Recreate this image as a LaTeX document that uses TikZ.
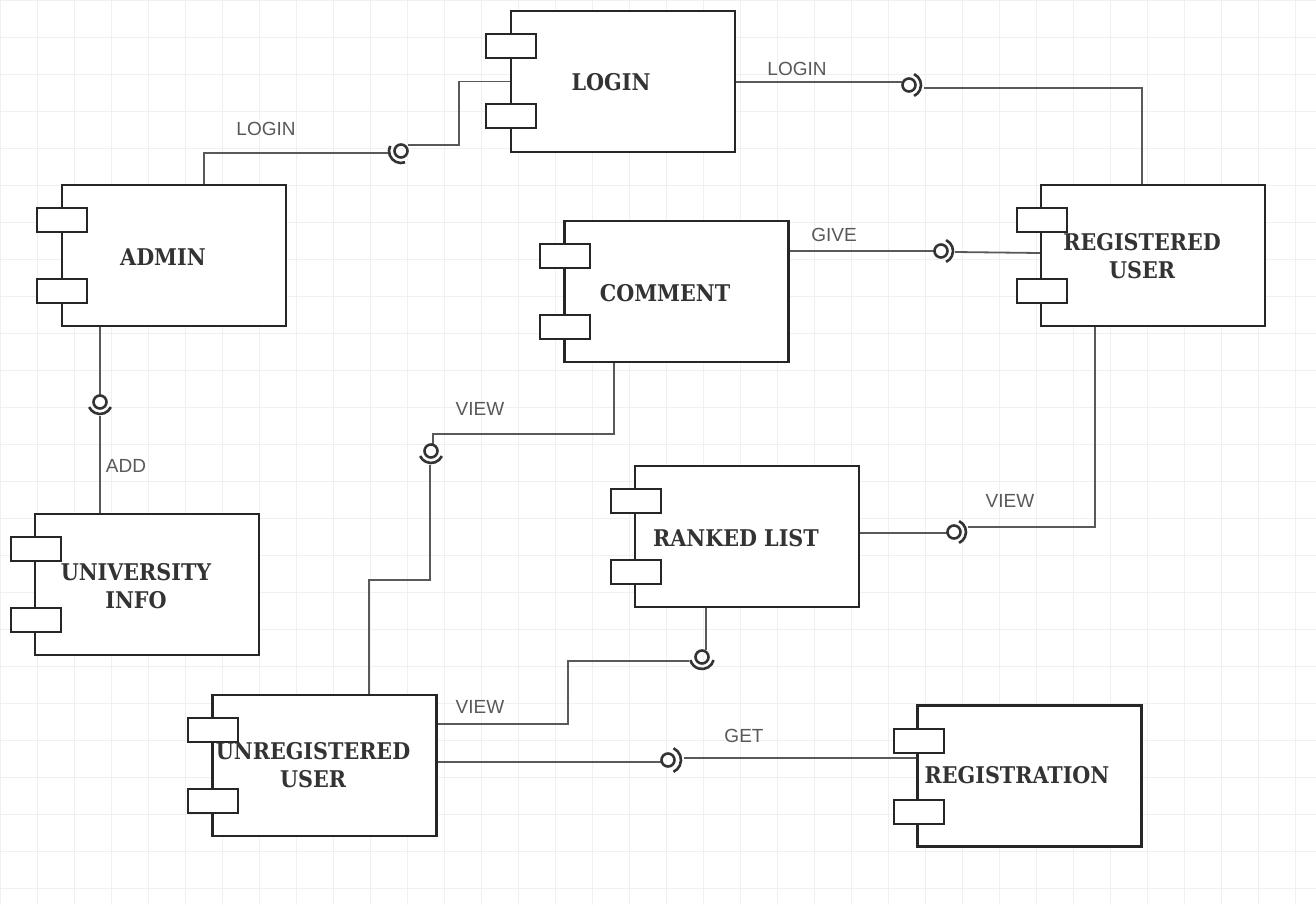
\documentclass[tikz,border=0pt]{standalone}
\usepackage{fontspec}
\newfontfamily\conlabfont{Liberation Sans}
\newfontfamily\compfont{DejaVu Serif Condensed}
\begin{document}
\begin{tikzpicture}[x=1pt,y=-1pt,
  comp/.style={draw=black!85,line width=2.2pt,fill=white,minimum width=224pt,minimum height=141pt,inner sep=0pt},
  port/.style={draw=black!85,line width=2pt,fill=white,minimum width=50pt,minimum height=24pt,inner sep=0pt},
  ctext/.style={font=\compfont\fontsize{23}{28}\selectfont\bfseries,text=black!80,align=center},
  conn/.style={draw=black!65,line width=1.8pt},
  clab/.style={font=\conlabfont\fontsize{19}{22}\selectfont,text=black!65},
  ball/.style={draw=black!80,line width=2.6pt},
  sock/.style={draw=black!80,line width=2.6pt}
]
\useasboundingbox (0,0) rectangle (1316,905);
\fill[white] (0,0) rectangle (1316,905);
\draw[black!6,line width=0.8pt,step=37pt] (0,0) grid (1316,905);

% components
\node[comp] (login) at (623,81.5) {};
\node[port] (loginP1) at (511,46) {};
\node[port] (loginP2) at (511,115.5) {};
\node[ctext] (loginT) at (611,82) {LOGIN};

\node[comp] (admin) at (174,255.5) {};
\node[port] (adminP1) at (62,220) {};
\node[port] (adminP2) at (62,291) {};
\node[ctext] (adminT) at (163,257) {ADMIN};

\node[comp] (comment) at (676.5,291.5) {};
\node[port] (commentP1) at (565,256) {};
\node[port] (commentP2) at (565,327) {};
\node[ctext] (commentT) at (665,293) {COMMENT};

\node[comp] (reg) at (1153,255.5) {};
\node[port] (regP1) at (1042,220) {};
\node[port] (regP2) at (1042,291) {};
\node[ctext] (regT) at (1142,256) {REGISTERED\\USER};

\node[comp] (uni) at (147,584.5) {};
\node[port] (uniP1) at (36,549) {};
\node[port] (uniP2) at (36,620) {};
\node[ctext] (uniT) at (136,586) {UNIVERSITY\\INFO};

\node[comp] (ranked) at (747,536.5) {};
\node[port] (rankedP1) at (636,501) {};
\node[port] (rankedP2) at (636,572) {};
\node[ctext] (rankedT) at (736,538) {RANKED LIST};

\node[comp] (unreg) at (324.5,765.5) {};
\node[port] (unregP1) at (213,730) {};
\node[port] (unregP2) at (213,801) {};
\node[ctext] (unregT) at (313,765) {UNREGISTERED\\USER};

\node[comp] (regis) at (1029.5,776) {};
\node[port] (regisP1) at (919,741) {};
\node[port] (regisP2) at (919,812) {};
\node[ctext] (regisT) at (1017,775) {REGISTRATION};

% ball/socket coordinates
\coordinate (b1) at (401,151);
\coordinate (b2) at (909,85);
\coordinate (b3) at (941,251);
\coordinate (b4) at (100,402);
\coordinate (b5) at (431,451);
\coordinate (b6) at (954,532);
\coordinate (b7) at (702,657);
\coordinate (b8) at (668,760);

% 1 admin - login
\draw[conn] (admin.north -| 204,0) |- (388,153);
\draw[conn] (408,145) -- (459,145) |- (login.west);
\draw[ball] (b1) circle (6.5pt);
\draw[sock] (b1) ++(70:12) arc[start angle=70,end angle=205,radius=12];
\node[clab] (l1) at (266,129) {LOGIN};

% 2 login - registered user
\draw[conn] (login.east |- 0,82) -- (902,82);
\draw[conn] (924,88) -| (reg.north -| 1142,0);
\draw[ball] (b2) circle (6.5pt);
\draw[sock] (b2) ++(-65:12) arc[start angle=-65,end angle=65,radius=12];
\node[clab] (l2) at (797,69) {LOGIN};

% 3 comment - registered user
\draw[conn] (comment.east |- 0,251) -- (934,251);
\draw[conn] (955,252) -- (reg.west |- 0,253);
\draw[ball] (b3) circle (6.5pt);
\draw[sock] (b3) ++(-65:12) arc[start angle=-65,end angle=65,radius=12];
\node[clab] (l3) at (834,235) {GIVE};

% 4 admin - university info
\draw[conn] (admin.south -| 100,0) -- (100,395);
\draw[conn] (100,416) -- (uni.north -| 100,0);
\draw[ball] (b4) circle (6.5pt);
\draw[sock] (b4) ++(25:12) arc[start angle=25,end angle=155,radius=12];
\node[clab] (l4) at (126,466) {ADD};

% 5 comment - unregistered user
\draw[conn] (comment.south -| 614,0) |- (433,434) -- (433,444);
\draw[conn] (430,465) -- (430,580) -| (unreg.north -| 369,0);
\draw[ball] (b5) circle (6.5pt);
\draw[sock] (b5) ++(25:12) arc[start angle=25,end angle=155,radius=12];
\node[clab] (l5) at (480,409) {VIEW};

% 6 ranked list - registered user
\draw[conn] (ranked.east |- 0,533) -- (947,533);
\draw[conn] (968,527) -| (reg.south -| 1095,0);
\draw[ball] (b6) circle (6.5pt);
\draw[sock] (b6) ++(-65:12) arc[start angle=-65,end angle=65,radius=12];
\node[clab] (l6) at (1010,501) {VIEW};

% 7 ranked list - unregistered user
\draw[conn] (ranked.south -| 706,0) -- (706,650);
\draw[conn] (689,661) -- (568,661) |- (unreg.east |- 0,724);
\draw[ball] (b7) circle (6.5pt);
\draw[sock] (b7) ++(15:12) arc[start angle=15,end angle=165,radius=12];
\node[clab] (l7) at (480,707) {VIEW};

% 8 unregistered user - registration
\draw[conn] (unreg.east |- 0,762) -- (661,762);
\draw[conn] (684,758) -- (regis.west |- 0,758);
\draw[ball] (b8) circle (6.5pt);
\draw[sock] (b8) ++(-65:13) arc[start angle=-65,end angle=65,radius=13];
\node[clab] (l8) at (744,736) {GET};
\end{tikzpicture}
\end{document}
